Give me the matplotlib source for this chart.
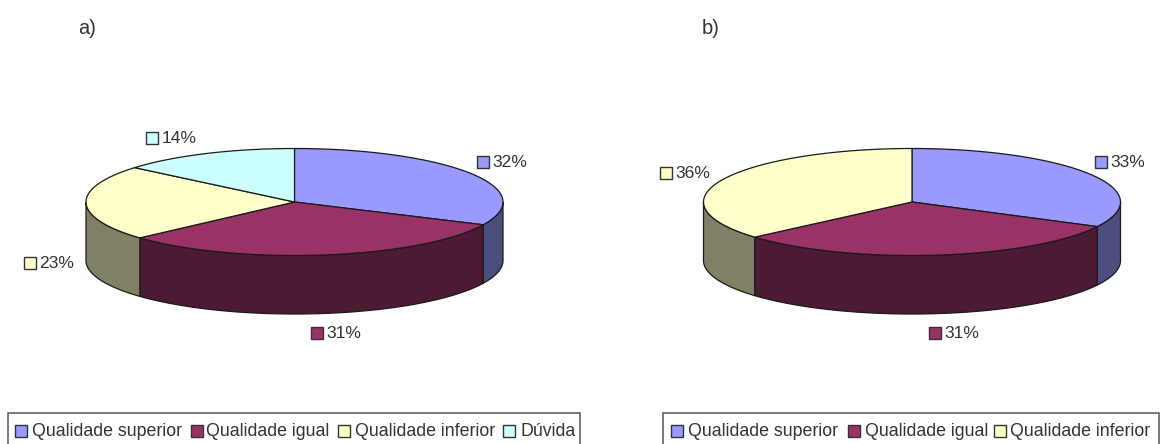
"""
plot.py

Two tilted 3D-style pies with boxed legends, drawn on one pixel-sized axes.
"""

import numpy as np
import matplotlib
matplotlib.use("Agg")
import matplotlib.pyplot as plt
from matplotlib.patches import Rectangle

categories_a = ["Qualidade superior", "Qualidade igual", "Qualidade inferior", "Dúvida"]
values_a = [32.0, 31.3, 22.8, 13.9]  # printed rounded, decimals read from the slice seams
categories_b = ["Qualidade superior", "Qualidade igual", "Qualidade inferior"]
values_b = [32.6, 31.0, 36.4]

top_colors = ["#9999FF", "#993366", "#FFFFCC", "#CCFFFF"]
side_colors = ["#4D4D80", "#4C1A33", "#808066", "#668080"]

RX, RY, DEPTH, CY = 208.5, 53.5, 58.5, 202
EDGE = "#1a1a1a"
TEXT = "#333333"

plt.rcParams["font.family"] = ["Liberation Sans", "DejaVu Sans"]

fig = plt.figure(figsize=(11.62, 4.44), dpi=100)
ax = fig.add_axes([0, 0, 1, 1])
ax.set_xlim(0, 1162)
ax.set_ylim(444, 0)
ax.axis("off")


def ellipse(cx, cy, t):
    # t in degrees, clockwise from twelve o'clock
    r = np.radians(t)
    return cx + RX * np.sin(r), cy - RY * np.cos(r)


def draw_pie(cx, values):
    edges = np.cumsum([0] + values) / sum(values) * 360

    # walls first, only the part facing the viewer (90..270 degrees)
    for i in range(len(values)):
        t0, t1 = max(edges[i], 90), min(edges[i + 1], 270)
        if t1 <= t0:
            continue
        t = np.linspace(t0, t1, 100)
        x, y = ellipse(cx, CY, t)
        ax.fill(np.r_[x, x[::-1]], np.r_[y, y[::-1] + DEPTH],
                fc=side_colors[i], ec=EDGE, lw=0.9, zorder=2)

    # top slices
    for i in range(len(values)):
        t = np.linspace(edges[i], edges[i + 1], 100)
        x, y = ellipse(cx, CY, t)
        ax.fill(np.r_[cx, x], np.r_[CY, y],
                fc=top_colors[i], ec=EDGE, lw=0.9, zorder=3)


def swatch(x, y, color, size=11.5):
    ax.add_patch(Rectangle((x, y - size / 2), size, size, fc=color,
                           ec="#333333", lw=1.0, zorder=4))


def value_label(x, y, value, color):
    swatch(x, y, color)
    ax.text(x + 15.5, y, f"{value:.0f}%", fontsize=12.6, color=TEXT, va="center", ha="left")


def legend_box(x0, x1, names, swatch_xs, text_xs):
    ax.add_patch(Rectangle((x0, 413), x1 - x0, 40, fc="white", ec="#555555",
                           lw=1.1, zorder=1))
    for i, name in enumerate(names):
        swatch(swatch_xs[i], 431, top_colors[i])
        ax.text(text_xs[i], 431, name, fontsize=12.8, color=TEXT,
                va="center", ha="left", zorder=4)


draw_pie(294.5, values_a)
draw_pie(912, values_b)

value_label(477, 162, values_a[0], top_colors[0])
value_label(311, 333, values_a[1], top_colors[1])
value_label(24, 263, values_a[2], top_colors[2])
value_label(146, 138, values_a[3], top_colors[3])

value_label(1095, 162, values_b[0], top_colors[0])
value_label(929, 333, values_b[1], top_colors[1])
value_label(660, 173, values_b[2], top_colors[2])

legend_box(8, 580, categories_a, [15, 191, 338, 503], [32, 206, 355, 520])
legend_box(663, 1159, categories_b, [671, 848, 994], [688, 865, 1010])

ax.text(78, 28, "a)", fontsize=14.5, color=TEXT, va="center", ha="left")
ax.text(702, 28, "b)", fontsize=14.5, color=TEXT, va="center", ha="left")

fig.savefig("out.png", dpi=100)
plt.close(fig)
